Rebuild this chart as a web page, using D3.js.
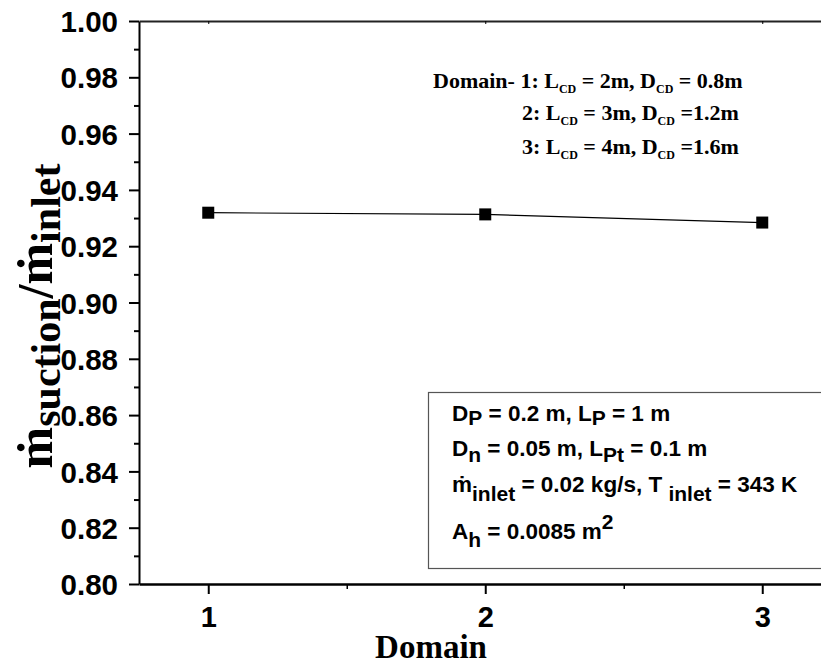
<!DOCTYPE html>
<html lang="en">
<head>
<meta charset="UTF-8">
<title>Suction ratio vs domain</title>
<script src="https://d3js.org/d3.v7.min.js"></script>
<style>
    body { margin: 0; background: #fff; }
    svg { display: block; }
    .sans { font-family: Arial, "Liberation Sans", sans-serif; font-weight: bold; }
    .serif { font-family: "Times New Roman", "Liberation Serif", serif; font-weight: bold; }
</style>
</head>
<body>
<script>
    // data
    const domains = [1, 2, 3];
    const ratio = [0.9319, 0.9313, 0.9284];
    const xTickValues = [1, 2, 3];
    const xMinorTicks = [1.5, 2.5];
    const yTickValues = [0.80, 0.82, 0.84, 0.86, 0.88, 0.90, 0.92, 0.94, 0.96, 0.98, 1.00];
    const yMinorTicks = [0.81, 0.83, 0.85, 0.87, 0.89, 0.91, 0.93, 0.95, 0.97, 0.99];

    const W = 821, H = 666;
    const plotLeft = 139, plotTop = 21, plotBottom = 584;

    const svg = d3.select("body").append("svg")
        .attr("width", W).attr("height", H);

    const x = d3.scaleLinear().domain([0.75, 3.25]).range([plotLeft, plotLeft + 2.5 * 277]);
    const y = d3.scaleLinear().domain([0.8, 1.0]).range([plotBottom, plotTop]);

    // left axis
    const yAxis = svg.append("g")
        .attr("transform", `translate(${plotLeft},0)`)
        .call(d3.axisLeft(y).tickValues(yTickValues).tickSize(10).tickSizeOuter(0)
            .tickFormat(d3.format(".2f")));
    yAxis.select(".domain").attr("stroke-width", 2);
    yAxis.selectAll(".tick line").attr("stroke-width", 2);
    yAxis.selectAll(".tick text").attr("class", "sans").attr("font-size", 29.5)
        .attr("x", -21).attr("dy", "0.36em").attr("fill", "#000");
    svg.append("g").attr("transform", `translate(${plotLeft},0)`)
        .call(d3.axisLeft(y).tickValues(yMinorTicks).tickSize(5).tickSizeOuter(0).tickFormat(""))
        .call(g => g.select(".domain").remove())
        .selectAll("line").attr("stroke-width", 2);

    // bottom axis
    const xAxis = svg.append("g")
        .attr("transform", `translate(0,${plotBottom})`)
        .call(d3.axisBottom(x).tickValues(xTickValues).tickSize(10).tickSizeOuter(0)
            .tickFormat(d3.format("d")));
    xAxis.select(".domain").attr("stroke-width", 2.5);
    xAxis.selectAll(".tick line").attr("stroke-width", 2);
    xAxis.selectAll(".tick text").attr("class", "sans").attr("font-size", 29)
        .attr("y", 22).attr("dy", "0.71em").attr("fill", "#000");
    svg.append("g").attr("transform", `translate(0,${plotBottom})`)
        .call(d3.axisBottom(x).tickValues(xMinorTicks).tickSize(5).tickSizeOuter(0).tickFormat(""))
        .call(g => g.select(".domain").remove())
        .selectAll("line").attr("stroke-width", 1.5);

    // top axis (mirror)
    const topAxis = svg.append("g")
        .attr("transform", `translate(0,${plotTop})`)
        .call(d3.axisTop(x).tickValues(xTickValues).tickSize(-3).tickSizeOuter(0).tickFormat(""));
    topAxis.select(".domain").attr("stroke-width", 2).attr("stroke", "#222");

    // data line + markers
    const pts = domains.map((d, i) => [d, ratio[i]]);
    svg.append("path")
        .datum(pts)
        .attr("fill", "none")
        .attr("stroke", "#000")
        .attr("stroke-width", 1.2)
        .attr("d", d3.line().x(d => x(d[0])).y(d => y(d[1])));
    svg.selectAll("rect.pt")
        .data(pts)
        .join("rect")
        .attr("class", "pt")
        .attr("x", d => x(d[0]) - 6)
        .attr("y", d => y(d[1]) - 6)
        .attr("width", 12).attr("height", 12)
        .attr("fill", "#000");

    // axis titles
    svg.append("text")
        .attr("class", "serif")
        .attr("x", (plotLeft + 723) / 2).attr("y", 658)
        .attr("text-anchor", "middle")
        .attr("font-size", 33)
        .text("Domain");

    const yt = svg.append("text")
        .attr("class", "serif")
        .attr("transform", "translate(52,316) rotate(-90)")
        .attr("text-anchor", "middle")
        .attr("font-size", 50);
    yt.append("tspan").text("\u1E41");
    yt.append("tspan").attr("font-size", 42).attr("dy", 8).text("suction");
    yt.append("tspan").attr("dy", -8).text("/\u1E41");
    yt.append("tspan").attr("font-size", 42).attr("dy", 8).text("inlet");

    // top-right annotation (domain sizes)
    const domainNotes = [
        { lead: "Domain- 1: ", L: "2m", D: " 0.8m", x: 433 },
        { lead: "2: ", L: "3m", D: "1.2m", x: 522 },
        { lead: "3: ", L: "4m", D: "1.6m", x: 522 }
    ];
    const noteY = [88, 120, 154];
    domainNotes.forEach((n, i) => {
        const t = svg.append("text").attr("class", "serif").attr("font-size", 22)
            .attr("x", n.x).attr("y", noteY[i]);
        t.append("tspan").text(n.lead + "L");
        t.append("tspan").attr("font-size", 12).attr("dy", 5).text("CD");
        t.append("tspan").attr("dy", -5).text(` = ${n.L}, D`);
        t.append("tspan").attr("font-size", 12).attr("dy", 5).text("CD");
        t.append("tspan").attr("dy", -5).text(" =" + n.D);
    });

    // parameter box
    svg.append("rect")
        .attr("x", 428.5).attr("y", 392.5)
        .attr("width", 420).attr("height", 176)
        .attr("fill", "none").attr("stroke", "#555").attr("stroke-width", 1.2);

    // each line: list of [text, shift] pieces, shift in px (positive = subscript)
    const boxLines = [
        [["D", 0], ["P", 4], [" = 0.2 m, L", 0], ["P", 4], [" = 1 m", 0]],
        [["D", 0], ["n", 6], [" = 0.05 m, L", 0], ["Pt", 6], [" = 0.1 m", 0]],
        [["\u1E41", 0], ["inlet", 9], [" = 0.02 kg/s, T ", 0], ["inlet", 9], [" = 343 K", 0]],
        [["A", 0], ["h", 8], [" = 0.0085 m", 0], ["2", -10]]
    ];
    const boxY = [421, 456, 492, 539];
    boxLines.forEach((parts, i) => {
        const t = svg.append("text").attr("class", "sans").attr("font-size", 22.5)
            .attr("x", 452).attr("y", boxY[i]);
        let prev = 0;
        parts.forEach(([s, shift]) => {
            t.append("tspan")
                .attr("dy", shift - prev)
                .attr("font-size", shift === 0 ? null : 21)
                .text(s);
            prev = shift;
        });
    });
</script>
</body>
</html>
